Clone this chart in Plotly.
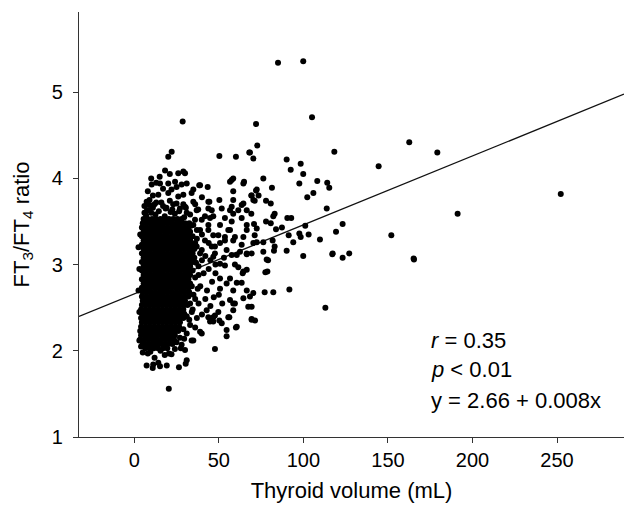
import plotly.graph_objects as go

# ---------------- data ----------------
# isolated / far points
far_x = [85.0, 99.9, 105.1, 72.0, 28.6, 72.7, 68.4, 70.4, 90.1, 98.4, 92.5, 99.9, 118.3, 144.5,
         162.6, 179.2, 252.2, 191.2, 152.0, 165.2, 113.0, 20.4, 47.7, 117.1, 123.2, 127.1, 165.4]
far_y = [5.34, 5.36, 4.71, 4.63, 4.66, 4.38, 4.30, 4.23, 4.22, 4.17, 4.10, 4.05, 4.31, 4.14,
         4.42, 4.30, 3.82, 3.59, 3.34, 3.07, 2.50, 1.56, 2.02, 3.12, 3.08, 3.13, 3.06]

# scattered points around the main cluster
mid_x = [97.6, 108.2, 114.1, 115.3, 105.9, 102.3, 81.4, 72.0, 73.5, 69.2, 71.2, 77.9, 80.7, 113.8,
         83.0, 82.2, 69.2, 90.5, 92.8, 77.9, 80.7, 70.8, 72.4, 83.8, 87.3, 101.1, 123.2, 119.3,
         71.2, 91.3, 97.6, 98.4, 103.1, 109.8, 94.0, 72.4, 76.3, 81.8, 83.0, 76.3, 82.6, 90.1,
         117.3, 99.9, 79.1, 77.5, 78.7, 77.1, 91.7, 68.4, 76.3,
         82.2, 78.3, 58.5, 60.6, 64.1, 66.5, 56.6, 59.5, 50.7, 46.7, 70.4, 56.6, 58.5, 49.7,
         46.7, 42.8, 54.6, 60.1, 71.4, 69.4, 50.3, 56.2, 67.4, 39.9, 33.9, 28.0, 44.8, 30.4,
         7.3, 10.9, 15.2, 19.2, 26.4, 11.2, 14.2,
         66.5, 60.6, 53.6, 61.5, 64.5, 50.7, 54.6, 63.5, 66.5, 50.7, 64.5, 59.5, 69.4, 58.5,
         47.7, 55.6, 43.8, 46.7, 51.7, 60.6, 69.4, 54.6, 38.9, 34.9, 30.0, 31.0,
         29.0, 58.5, 56.6, 64.9, 38.4, 43.4, 31.0, 34.9, 72.4, 58.5, 69.4, 70.4, 29.0, 34.9,
         44.4, 50.3, 58.5, 64.5, 30.0, 37.8, 43.8, 51.7, 56.6, 61.5, 66.5, 46.7, 41.8, 58.5,
         63.5, 53.6, 35.9, 34.9, 43.8, 50.7, 66.5, 31.0, 38.9, 56.6, 46.7, 53.6, 64.5, 41.8,
         58.5, 50.7, 70.4, 36.9, 45.8, 54.6, 62.5, 66.5, 38.9, 50.3, 60.1, 68.0,
         22.1, 20.1, 18.2, 26.0, 30.0, 10.3, 15.2, 20.1, 24.1, 38.9, 57.6, 64.5, 7.3, 14.2,
         20.1, 26.0, 33.9, 43.8, 8.3, 36.9, 45.8, 57.6, 63.5, 6.3, 39.9, 44.8, 57.6, 43.8,
         49.7, 55.6, 66.5, 53.6, 59.5, 47.7, 63.5, 57.6, 47.7, 39.9, 69.4,
         33.0, 36.0, 40.0, 42.0, 35.0, 38.0, 41.0, 44.0, 36.0, 39.0, 43.0, 46.0, 35.0, 38.0,
         42.0, 45.0, 34.0, 37.0, 40.0, 33.0, 36.0, 48.0, 47.0, 52.0, 50.0, 45.0, 48.0, 53.0,
         34.0, 37.0, 40.0, 44.0, 32.0, 34.0, 33.0, 31.0, 29.0, 27.0, 25.0, 24.0, 22.0, 18.0,
         12.0, 8.0, 4.0, 3.0,
         6.0, 9.0, 12.0, 16.0, 19.0, 23.0, 27.0, 31.0, 8.0, 11.0, 17.0, 22.0, 25.0, 13.0,
         28.0, 6.0, 33.0, 36.0, 40.0, 10.0, 15.0, 21.0,
         7.5, 11.0, 14.5, 18.5, 22.5, 26.5, 30.5, 9.0, 13.0, 17.0, 21.0, 25.0, 29.0, 33.5,
         37.0, 35.5, 36.5, 38.0, 37.5, 36.0, 34.5, 32.5, 31.0, 29.5, 3.0, 2.5, 3.0, 2.5, 3.5,
         5.0, 9.5, 15.5, 20.5, 27.5,
         7.0, 12.5, 18.0, 24.0, 29.5, 10.0, 21.5]
mid_y = [3.94, 3.97, 3.95, 3.89, 3.83, 3.78, 3.89, 3.86, 3.80, 3.80, 3.74, 3.74, 3.71, 3.65,
         3.59, 3.56, 3.59, 3.54, 3.54, 3.50, 3.48, 3.47, 3.42, 3.41, 3.43, 3.45, 3.47, 3.38,
         3.34, 3.34, 3.36, 3.32, 3.35, 3.29, 3.26, 3.26, 3.26, 3.28, 3.21, 3.15, 3.16, 3.16,
         3.13, 3.10, 3.05, 2.91, 2.92, 2.68, 2.71, 2.63, 4.00,
         2.68, 3.06, 2.70, 2.79, 2.90, 2.94, 2.84, 3.00, 3.01, 3.09, 2.67, 2.59, 2.55, 2.45,
         2.39, 2.47, 2.17, 2.27, 2.35, 2.37, 2.35, 2.39, 2.51, 2.20, 2.12, 2.07, 2.34, 1.85,
         1.83, 1.80, 1.82, 1.83, 1.81, 1.84, 1.86,
         3.12, 3.11, 2.99, 2.97, 2.92, 2.84, 2.78, 2.79, 2.70, 2.72, 2.61, 2.55, 2.51, 2.47,
         2.41, 2.39, 2.39, 2.34, 2.32, 2.28, 2.36, 2.24, 2.22, 2.12, 2.01, 1.89,
         4.08, 4.00, 3.96, 3.96, 3.92, 3.90, 3.94, 3.87, 3.87, 3.85, 3.80, 3.75, 3.81, 3.73,
         3.73, 3.75, 3.75, 3.71, 3.67, 3.64, 3.65, 3.65, 3.63, 3.63, 3.63, 3.56, 3.56, 3.59,
         3.54, 3.54, 3.52, 3.46, 3.46, 3.46, 3.46, 3.40, 3.40, 3.40, 3.34, 3.32, 3.32, 3.28,
         3.28, 3.25, 3.25, 3.21, 3.21, 3.17, 3.15, 3.13, 3.13, 4.26, 4.25, 4.30,
         4.31, 4.25, 4.09, 4.06, 4.06, 3.93, 3.94, 3.94, 3.96, 3.92, 3.98, 3.94, 3.73, 3.81,
         3.83, 3.79, 3.83, 3.73, 3.63, 3.63, 3.63, 3.67, 3.69, 3.52, 3.52, 3.54, 3.50, 3.40,
         3.34, 3.40, 3.40, 3.28, 3.32, 3.21, 3.23, 3.11, 3.13, 3.17, 3.13,
         3.30, 3.25, 3.35, 3.10, 3.05, 2.98, 2.90, 2.95, 2.85, 2.75, 2.70, 2.80, 2.65, 2.55,
         2.60, 2.52, 2.45, 2.38, 2.42, 2.30, 2.27, 2.90, 2.62, 2.55, 2.65, 3.05, 3.00, 3.08,
         3.15, 3.40, 3.05, 3.25, 2.95, 2.75, 2.55, 2.40, 2.25, 2.15, 2.10, 2.02, 1.96, 1.95,
         1.92, 1.97, 2.05, 2.12,
         3.68, 3.75, 3.70, 3.72, 3.66, 3.70, 3.65, 3.60, 3.85, 3.80, 3.88, 3.87, 3.90, 3.95,
         3.93, 3.60, 3.58, 3.70, 3.78, 4.00, 4.02, 4.05,
         3.63, 3.66, 3.62, 3.65, 3.64, 3.62, 3.66, 3.69, 3.72, 3.68, 3.74, 3.71, 3.70, 3.45,
         3.30, 3.18, 3.02, 2.88, 2.72, 2.60, 2.48, 2.36, 2.20, 2.14, 2.95, 2.70, 2.45, 3.20,
         3.35, 1.98, 1.99, 2.00, 1.97, 2.03,
         3.57, 3.58, 3.56, 3.59, 3.55, 3.60, 3.61]

# dense core of the cluster, row by row
core_row_y = [3.53, 3.48, 3.43, 3.38, 3.33, 3.28, 3.23, 3.18, 3.13, 3.08, 3.03, 2.98,
              2.93, 2.88, 2.83, 2.78, 2.73, 2.68, 2.63, 2.58, 2.53, 2.48, 2.43, 2.38, 2.33,
              2.28, 2.23, 2.18, 2.13, 2.08, 2.03]
core_row_x = [
    [5.5, 8.0, 10.5, 13.0, 15.5, 18.0, 20.5, 23.0, 25.5, 28.0],
    [5.0, 7.5, 10.0, 12.5, 15.0, 17.5, 20.0, 22.5, 25.0, 27.5, 30.0, 32.5],
    [4.5, 7.0, 9.5, 12.0, 14.5, 17.0, 19.5, 22.0, 24.5, 27.0, 29.5, 32.0],
    [5.5, 8.0, 10.5, 13.0, 15.5, 18.0, 20.5, 23.0, 25.5, 28.0, 30.5, 33.0],
    [4.5, 7.0, 9.5, 12.0, 14.5, 17.0, 19.5, 22.0, 24.5, 27.0, 29.5, 32.0, 34.5],
    [5.5, 8.0, 10.5, 13.0, 15.5, 18.0, 20.5, 23.0, 25.5, 28.0, 30.5, 33.0],
    [4.5, 7.0, 9.5, 12.0, 14.5, 17.0, 19.5, 22.0, 24.5, 27.0, 29.5, 32.0, 34.5],
    [5.5, 8.0, 10.5, 13.0, 15.5, 18.0, 20.5, 23.0, 25.5, 28.0, 30.5, 33.0],
    [4.5, 7.0, 9.5, 12.0, 14.5, 17.0, 19.5, 22.0, 24.5, 27.0, 29.5, 32.0, 34.5],
    [5.5, 8.0, 10.5, 13.0, 15.5, 18.0, 20.5, 23.0, 25.5, 28.0, 30.5, 33.0, 35.5],
    [4.5, 7.0, 9.5, 12.0, 14.5, 17.0, 19.5, 22.0, 24.5, 27.0, 29.5, 32.0, 34.5],
    [5.5, 8.0, 10.5, 13.0, 15.5, 18.0, 20.5, 23.0, 25.5, 28.0, 30.5, 33.0],
    [4.5, 7.0, 9.5, 12.0, 14.5, 17.0, 19.5, 22.0, 24.5, 27.0, 29.5, 32.0, 34.5],
    [5.5, 8.0, 10.5, 13.0, 15.5, 18.0, 20.5, 23.0, 25.5, 28.0, 30.5, 33.0],
    [4.5, 7.0, 9.5, 12.0, 14.5, 17.0, 19.5, 22.0, 24.5, 27.0, 29.5, 32.0],
    [5.5, 8.0, 10.5, 13.0, 15.5, 18.0, 20.5, 23.0, 25.5, 28.0, 30.5, 33.0],
    [4.5, 7.0, 9.5, 12.0, 14.5, 17.0, 19.5, 22.0, 24.5, 27.0, 29.5, 32.0],
    [5.0, 7.5, 10.0, 12.5, 15.0, 17.5, 20.0, 22.5, 25.0, 27.5, 30.0, 32.5],
    [4.5, 7.0, 9.5, 12.0, 14.5, 17.0, 19.5, 22.0, 24.5, 27.0, 29.5, 32.0],
    [5.0, 7.5, 10.0, 12.5, 15.0, 17.5, 20.0, 22.5, 25.0, 27.5, 30.0],
    [4.5, 7.0, 9.5, 12.0, 14.5, 17.0, 19.5, 22.0, 24.5, 27.0, 29.5, 31.5],
    [4.0, 6.5, 9.0, 11.5, 14.0, 16.5, 19.0, 21.5, 24.0, 26.5, 29.0],
    [4.5, 7.0, 9.5, 12.0, 14.5, 17.0, 19.5, 22.0, 24.5, 27.0, 29.5],
    [4.0, 6.5, 9.0, 11.5, 14.0, 16.5, 19.0, 21.5, 24.0, 26.5, 29.0],
    [4.5, 7.0, 9.5, 12.0, 14.5, 17.0, 19.5, 22.0, 24.5, 27.0],
    [4.0, 6.5, 9.0, 11.5, 14.0, 16.5, 19.0, 21.5, 24.0, 26.5],
    [3.5, 6.0, 8.5, 11.0, 13.5, 16.0, 18.5, 21.0, 23.5, 26.0],
    [4.0, 6.5, 9.0, 11.5, 14.0, 16.5, 19.0, 21.5, 24.0],
    [3.5, 6.0, 8.5, 11.0, 13.5, 16.0, 18.5, 21.0, 23.5],
    [5.0, 7.5, 10.0, 12.5, 15.0, 17.5, 20.0, 22.5],
    [6.5, 9.0, 11.5, 14.0, 17.0, 19.5],
]

# regression line reported on the chart: y = 2.66 + 0.008x
fit_intercept = 2.66
fit_slope = 0.008
fit_x = [-32.7, 289.6]

x_ticks = [0, 50, 100, 150, 200, 250]
y_ticks = [1, 2, 3, 4, 5]
stat_lines = ["<i>r</i> = 0.35", "<i>p</i> &lt; 0.01", "y = 2.66 + 0.008x"]
stat_y = [2.12, 1.785, 1.425]

# ---------------- build ----------------
core_x, core_y = [], []
for yy, xs in zip(core_row_y, core_row_x):
    core_x.extend(xs)
    core_y.extend([yy] * len(xs))

all_x = core_x + mid_x + far_x
all_y = core_y + mid_y + far_y

FONT = "Liberation Sans, Arial, Helvetica, sans-serif"

fig = go.Figure()
fig.add_trace(go.Scatter(
    x=fit_x, y=[fit_intercept + fit_slope * v for v in fit_x],
    mode="lines", line=dict(color="#111111", width=1.3),
    hoverinfo="skip", showlegend=False))
fig.add_trace(go.Scatter(
    x=all_x, y=all_y, mode="markers",
    marker=dict(color="black", size=6, line=dict(width=0)),
    showlegend=False))

for txt, yv in zip(stat_lines, stat_y):
    fig.add_annotation(x=174.3, y=yv, xref="x", yref="y", text=txt, showarrow=False,
                       xanchor="left", yanchor="middle",
                       font=dict(family=FONT, size=22, color="black"))

fig.update_layout(
    width=624, height=507,
    margin=dict(l=79, r=0, t=12, b=70, autoexpand=False),
    paper_bgcolor="white", plot_bgcolor="white",
    font=dict(family=FONT, color="black"),
    showlegend=False,
)
fig.update_xaxes(
    range=[-32.7, 289.6], tickvals=x_ticks, ticks="outside", ticklen=5, tickwidth=1.3,
    tickcolor="#333333", showline=True, linecolor="#333333", linewidth=1.3,
    showgrid=False, zeroline=False, tickfont=dict(family=FONT, size=20), automargin=False,
    title=dict(text="Thyroid volume (mL)", font=dict(family=FONT, size=22), standoff=12),
)
fig.update_yaxes(
    range=[1.0, 5.93], tickvals=y_ticks, ticks="outside", ticklen=5, tickwidth=1.3,
    tickcolor="#333333", showline=True, linecolor="#333333", linewidth=1.3,
    showgrid=False, zeroline=False, tickfont=dict(family=FONT, size=20), automargin=False,
    ticklabelstandoff=6,
    title=dict(text="FT<sub>3</sub>/FT<sub>4</sub> ratio", font=dict(family=FONT, size=22),
               standoff=16),
)

fig.write_html(
    "out.html",
    config={"displayModeBar": False},
    post_script="document.body.style.margin='0';document.body.style.overflow='hidden';",
)
